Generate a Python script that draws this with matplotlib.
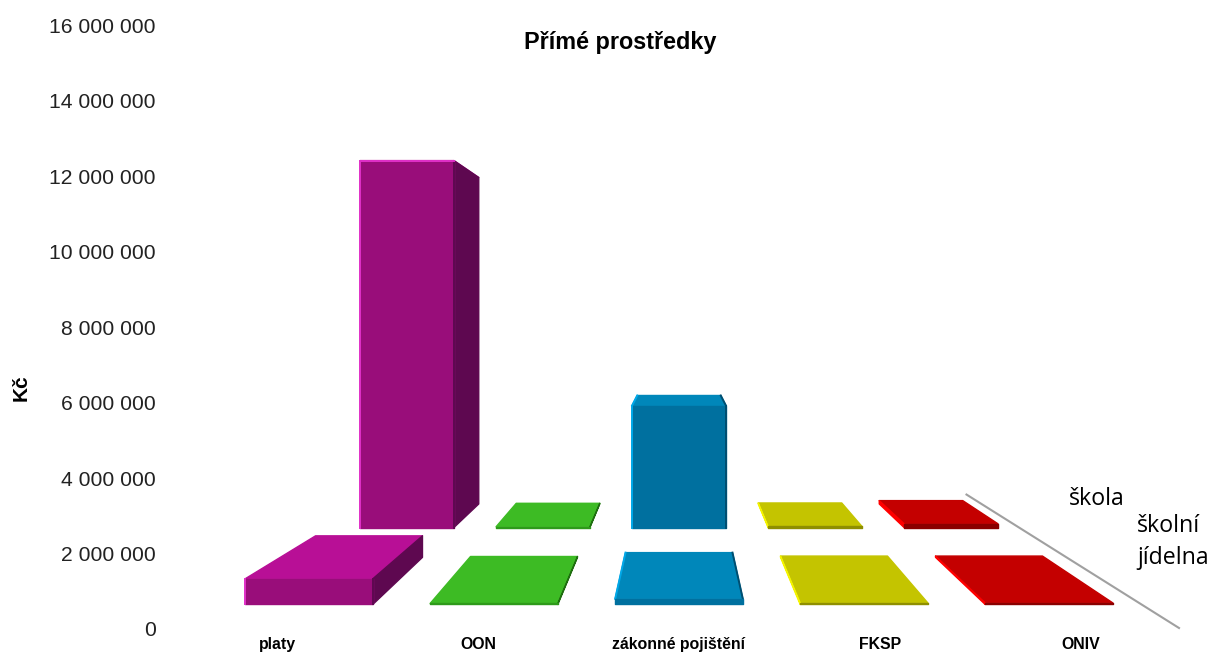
import matplotlib
matplotlib.use("Agg")
import matplotlib.pyplot as plt

plt.rcParams['font.family'] = ['Liberation Sans', 'DejaVu Sans']

kategorie = ["platy", "OON", "zákonné pojištění", "FKSP", "ONIV"]
skola = [9720000, 20000, 3230000, 30000, 100000]
jidelna = [500000, 20000, 110000, 30000, 30000]
y_ticks = [0, 2000000, 4000000, 6000000, 8000000, 10000000, 12000000, 14000000, 16000000]

barva_top = ["#B80F96", "#3DBB24", "#0087BA", "#C4C400", "#C40000"]
barva_predek = ["#990D7A", "#2E9A1A", "#00709F", "#8F8F00", "#8A0000"]
barva_tmava = ["#5E0850", "#1F6E10", "#004E70", "#6E6E00", "#700000"]
barva_svetla = ["#E030C8", "#60E040", "#00A8E8", "#F4F400", "#FF0000"]

W, H = 1211, 654
# perspektiva: meritko v pixelech na kategorii podle hloubky
STRED = 679
HORIZONT = 314
SKLON = 1.57
S_OSA = 201
S_REF = 136
PX_NA_MIL = 37.75
Y_NULA = 629
POLOSIRKA = 0.345
RADY = [(136, 121), (185, 155)]  # skola vzadu, jidelna vpredu


def kc(px):
    return px / PX_NA_MIL * 1e6


def projekce(kat, s, hodnota):
    # vrati souradnice v datech osy (kategorie, Kc)
    x = 2 + (kat - 2) * s / S_OSA
    podlaha = kc(Y_NULA - (HORIZONT + SKLON * s))
    return x, podlaha + hodnota * s / S_REF


def plocha(ax, body, barva, z):
    xs = [b[0] for b in body]
    ys = [b[1] for b in body]
    ax.fill(xs, ys, facecolor=barva, edgecolor=barva, linewidth=1.0, joinstyle='round', zorder=z, clip_on=False)


def cara(ax, a, b, barva, z):
    ax.plot([a[0], b[0]], [a[1], b[1]], color=barva, lw=1.4, zorder=z, clip_on=False)


def kresli_sloupec(ax, kat, s_p, s_z, hodnota, z):
    l, r = kat - POLOSIRKA, kat + POLOSIRKA
    # horni plocha
    plocha(ax, [projekce(l, s_p, hodnota), projekce(r, s_p, hodnota),
                projekce(r, s_z, hodnota), projekce(l, s_z, hodnota)], barva_top[kat], z)
    # bocni stena
    if kat != 2:
        bok = r if kat < 2 else l
        barva = barva_tmava[kat] if kat < 2 else barva_svetla[kat]
        plocha(ax, [projekce(bok, s_p, 0), projekce(bok, s_z, 0),
                    projekce(bok, s_z, hodnota), projekce(bok, s_p, hodnota)], barva, z + 0.1)
    else:
        cara(ax, projekce(l, s_p, hodnota), projekce(l, s_z, hodnota), barva_svetla[kat], z + 0.1)
        cara(ax, projekce(r, s_p, hodnota), projekce(r, s_z, hodnota), barva_tmava[kat], z + 0.1)
    # predni stena
    plocha(ax, [projekce(l, s_p, 0), projekce(r, s_p, 0),
                projekce(r, s_p, hodnota), projekce(l, s_p, hodnota)], barva_predek[kat], z + 0.2)
    # svetly a tmavy okraj
    if hodnota > 200000:
        cara(ax, projekce(l, s_p, 0), projekce(l, s_p, hodnota), barva_svetla[kat], z + 0.3)
        cara(ax, projekce(r, s_p, 0), projekce(r, s_p, hodnota), barva_tmava[kat], z + 0.3)
        if hodnota > 5000000:
            cara(ax, projekce(l, s_p, hodnota), projekce(r, s_p, hodnota), barva_svetla[kat], z + 0.3)


fig = plt.figure(figsize=(W / 100, H / 100), dpi=100)
ax = fig.add_axes([160 / W, 1 - Y_NULA / H, (W - 160) / W, (Y_NULA - 25) / H])
ax.set_xlim((160 - STRED) / S_OSA + 2, (W - STRED) / S_OSA + 2)
ax.set_ylim(0, 16000000)
for sp in ax.spines.values():
    sp.set_visible(False)
ax.patch.set_alpha(0)

for rada, hodnoty in enumerate([skola, jidelna]):
    s_p, s_z = RADY[rada]
    for kat, hodnota in enumerate(hodnoty):
        kresli_sloupec(ax, kat, s_p, s_z, hodnota, 2 + rada)

# hrana podlahy
a, b = projekce(4.5, 115, 0), projekce(4.5, 200, 0)
ax.plot([a[0], b[0]], [a[1], b[1]], color="#A0A0A0", lw=1.5, zorder=1, clip_on=False)

ax.set_yticks(y_ticks)
ax.set_yticklabels([f"{v:,}".replace(",", " ") for v in y_ticks], fontsize=15.2, color="#222222")
ax.set_xticks(range(len(kategorie)))
ax.set_xticklabels(kategorie, fontsize=11.4, fontweight='bold')
ax.tick_params(axis='y', length=0, pad=3)
ax.tick_params(axis='x', length=0, pad=5.5)

fig.text(21 / W, 1 - 388 / H, "Kč", rotation=90, fontsize=15, fontweight='bold', ha='center', va='center')
fig.text(620 / W, 1 - 42 / H, "Přímé prostředky", fontsize=16.8, fontweight='bold', ha='center', va='center')

fig.text(1069 / W, 1 - 499 / H, "škola", family='Open Sans', fontsize=16.7, ha='left', va='center')
fig.text(1137 / W, 1 - 526 / H, "školní", family='Open Sans', fontsize=16.7, ha='left', va='center')
fig.text(1137 / W, 1 - 558 / H, "jídelna", family='Open Sans', fontsize=16.7, ha='left', va='center')

fig.savefig("out.png", dpi=100)
